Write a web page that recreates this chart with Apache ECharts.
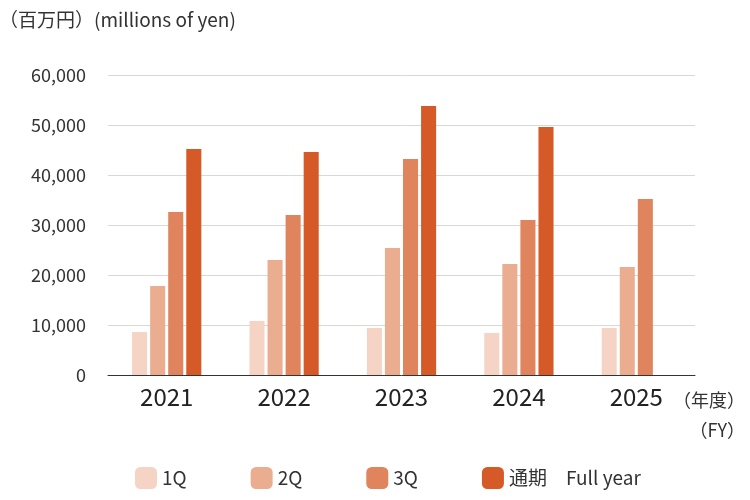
<!DOCTYPE html>
<html>
<head>
<meta charset="utf-8">
<script src="https://cdn.jsdelivr.net/npm/echarts@6/dist/echarts.min.js"></script>
<style>html,body{margin:0;padding:0;background:#fff}#main{width:750px;height:500px}</style>
</head>
<body>
<div id="main"></div>
<script>
const years = ['2021', '2022', '2023', '2024', '2025'];
const q1 = [8600, 10800, 9400, 8400, 9400];
const q2 = [17800, 23000, 25400, 22200, 21600];
const q3 = [32600, 32000, 43200, 31000, 35200];
const fullYear = [45200, 44600, 53800, 49600, null];
const seriesNames = ['1Q', '2Q', '3Q', '通期　Full year'];
const colors = ['#f5d4c6', '#eaad90', '#df845d', '#d55a27'];

const font = '"Noto Sans CJK JP", "Noto Sans", sans-serif';
const chart = echarts.init(document.getElementById('main'));

chart.setOption({
  animation: false,
  textStyle: { fontFamily: font },
  title: {
    text: '（百万円）(millions of yen)',
    left: -6, top: 5,
    textStyle: { fontSize: 19, fontWeight: 'normal', color: '#333', fontFamily: font }
  },
  legend: {
    bottom: 6, left: 130,
    itemWidth: 22, itemHeight: 22, itemGap: 64,
    textStyle: { fontSize: 19, color: '#333', fontFamily: font },
    data: seriesNames
  },
  grid: { left: 108, right: 55, top: 75, bottom: 125, outerBoundsMode: 'none', containLabel: false },
  xAxis: {
    type: 'category',
    data: years,
    axisTick: { show: false },
    axisLine: { lineStyle: { color: '#333' } },
    axisLabel: { fontSize: 24, color: '#222', margin: 10, fontFamily: font },
    name: '（年度）\n（FY）',
    nameLocation: 'end',
    nameGap: 0,
    nameTextStyle: { fontSize: 18, color: '#333', align: 'right', verticalAlign: 'top', padding: [10, -50, 0, 0], lineHeight: 30 }
  },
  yAxis: {
    type: 'value',
    min: 0, max: 60000, interval: 10000,
    axisLabel: { fontSize: 18, color: '#333', margin: 22, formatter: v => v.toLocaleString('en-US') },
    splitLine: { lineStyle: { color: '#d8d8d8' } }
  },
  series: [q1, q2, q3, fullYear].map((d, i) => ({
    name: seriesNames[i],
    type: 'bar',
    data: d,
    barGap: '20%',
    barCategoryGap: '41%',
    itemStyle: { color: colors[i] }
  }))
});
</script>
</body>
</html>
